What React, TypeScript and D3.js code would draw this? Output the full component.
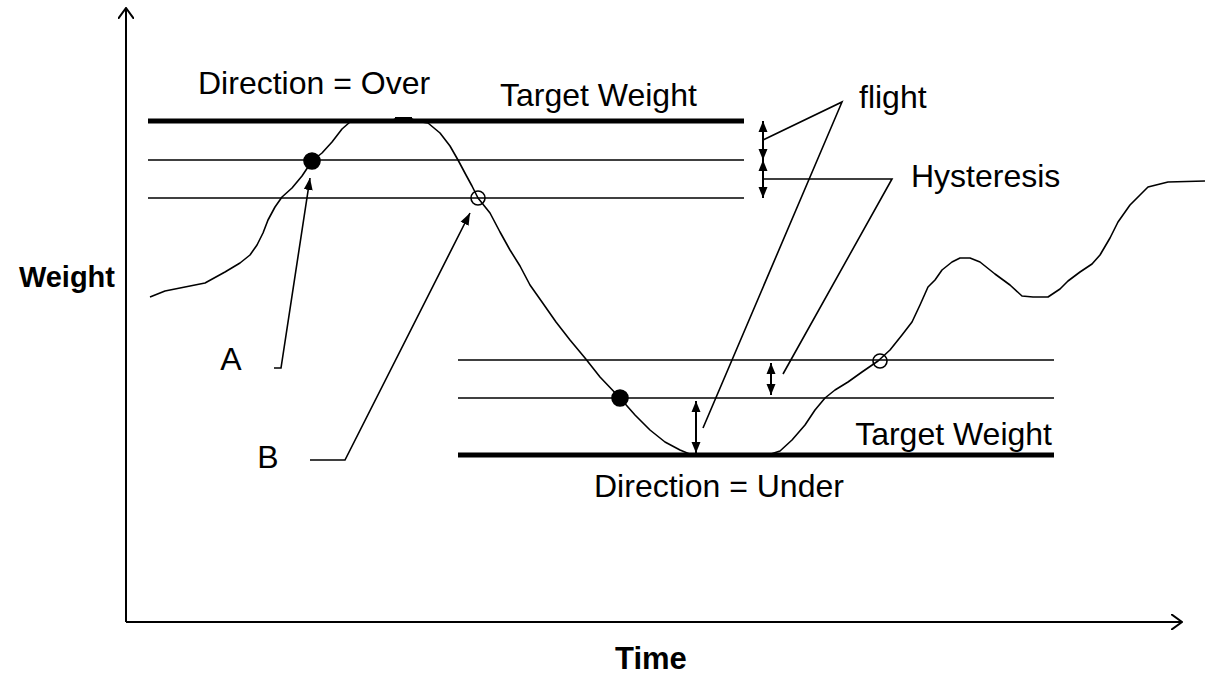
import * as React from "react";
import * as d3 from "d3";

// curve (time, weight) in diagram units
const curveTime = [
  24, 39, 59, 79, 99, 114, 124, 131, 137, 142, 149, 156, 166, 176, 186, 196, 206, 216, 224, 232,
  266, 269, 286, 289, 302, 314, 324, 332, 340, 346, 352, 364, 374, 384, 394, 404, 416, 430, 444,
  459, 474, 494, 509, 524, 539, 554, 566, 642, 654, 666, 679, 689, 699, 709, 722, 736, 752, 764,
  776, 786, 794, 802, 809, 816, 826, 834, 844, 854, 869, 884, 896, 907, 922, 934, 942, 954, 966,
  974, 984, 992, 1004, 1014, 1022, 1034, 1042, 1079,
];
const curveWeight = [
  325, 331, 335, 339, 350, 359, 367, 377, 389, 402, 415, 425, 434, 446, 461, 469, 480, 493, 500, 501,
  501, 503, 503, 501, 499, 489, 476, 462, 447, 436, 424, 409, 390, 372, 356, 337, 320, 300, 282,
  264, 245, 224, 207, 192, 180, 172, 167, 167, 171, 182, 197, 212, 224, 232, 240, 250, 261, 272,
  287, 300, 317, 335, 342, 352, 360, 364, 364, 360, 348, 337, 326, 325, 325, 333, 341, 350, 358,
  367, 384, 400, 417, 427, 435, 438, 440, 441,
];

// target weight (thick) and the two lines below / above it
const overLevels = [501, 462, 424];
const overSpan = [22, 618];
const underLevels = [167, 224, 262];
const underSpan = [332, 928];

// switching points
const dotTime = [186, 352, 494, 754];
const dotWeight = [461, 424, 224, 261];
const dotFilled = [true, false, true, false];

const W = 1205;
const H = 675;

function App() {
  const x = d3.scaleLinear().domain([0, 1056]).range([126, 1182]);
  const y = d3.scaleLinear().domain([0, 614]).range([622, 8]);

  const pts: [number, number][] = curveTime.map((t, i) => [t, curveWeight[i]]);
  const line = d3
    .line<[number, number]>()
    .x((d) => x(d[0]))
    .y((d) => y(d[1]));

  const seg = (p: [number, number][]) => line(p) as string;

  const font = "'Liberation Sans', Arial, sans-serif";

  return (
    <svg width={W} height={H} style={{ position: "absolute", left: 0, top: 0 }}>
      <defs>
        <marker id="head" viewBox="0 0 12 10" refX={12} refY={5} markerWidth={12} markerHeight={10} markerUnits="userSpaceOnUse" orient="auto-start-reverse">
          <path d="M0,0.5 L12,5 L0,9.5 Z" fill="#000" />
        </marker>
        <marker id="dbl" viewBox="0 0 11 10" refX={11} refY={5} markerWidth={11} markerHeight={10} markerUnits="userSpaceOnUse" orient="auto-start-reverse">
          <path d="M0,0.5 L11,5 L0,9.5 Z" fill="#000" />
        </marker>
        <marker id="open" viewBox="0 0 12 16" refX={11} refY={8} markerWidth={12} markerHeight={16} markerUnits="userSpaceOnUse" orient="auto">
          <path d="M0,0 L11,8 L0,16" fill="none" stroke="#000" strokeWidth={2} />
        </marker>
      </defs>
      <rect width={W} height={H} fill="#fff" />

      {/* axes */}
      <path d={seg([[0, 0], [0, 614]])} stroke="#000" strokeWidth={2} fill="none" markerEnd="url(#open)" />
      <path d={seg([[0, 0], [1056, 0]])} stroke="#000" strokeWidth={2} fill="none" markerEnd="url(#open)" />

      {/* levels */}
      {overLevels.map((w, i) => (
        <path key={"o" + i} d={seg([[overSpan[0], w], [overSpan[1], w]])} stroke="#000" strokeWidth={i === 0 ? 5 : 1.6} fill="none" />
      ))}
      {underLevels.map((w, i) => (
        <path key={"u" + i} d={seg([[underSpan[0], w], [underSpan[1], w]])} stroke="#000" strokeWidth={i === 0 ? 5 : 1.6} fill="none" />
      ))}

      {/* weight curve */}
      <path d={line(pts) as string} stroke="#000" strokeWidth={1.6} fill="none" strokeLinejoin="round" />
      <path d={seg([[269, 503], [286, 503]])} stroke="#000" strokeWidth={4} fill="none" />

      {/* points */}
      {dotTime.map((t, i) => (
        <circle key={"d" + i} cx={x(t)} cy={y(dotWeight[i])} r={dotFilled[i] ? 8 : 7}
          fill={dotFilled[i] ? "#000" : "none"} stroke="#000" strokeWidth={1.6} />
      ))}

      {/* A and B pointers */}
      <path d={seg([[148, 254], [155, 254], [184, 444]])} stroke="#000" strokeWidth={1.6} fill="none" markerEnd="url(#head)" />
      <path d={seg([[184, 162], [219, 162], [344, 409]])} stroke="#000" strokeWidth={1.6} fill="none" markerEnd="url(#head)" />

      {/* flight / hysteresis double arrows */}
      <path d={seg([[637, 501], [637, 462]])} stroke="#000" strokeWidth={2} fill="none" markerStart="url(#dbl)" markerEnd="url(#dbl)" />
      <path d={seg([[637, 462], [637, 424]])} stroke="#000" strokeWidth={2} fill="none" markerStart="url(#dbl)" markerEnd="url(#dbl)" />
      <path d={seg([[570, 221], [570, 169]])} stroke="#000" strokeWidth={2} fill="none" markerStart="url(#dbl)" markerEnd="url(#dbl)" />
      <path d={seg([[645, 259], [645, 227]])} stroke="#000" strokeWidth={2} fill="none" markerStart="url(#dbl)" markerEnd="url(#dbl)" />

      {/* leaders */}
      <path d={seg([[637, 482], [716, 520], [577, 194]])} stroke="#000" strokeWidth={1.6} fill="none" />
      <path d={seg([[637, 443], [766, 443], [657, 248]])} stroke="#000" strokeWidth={1.6} fill="none" />

      {/* labels */}
      <g fontFamily={font} fontSize={32} fill="#000">
        <text x={198} y={94}>Direction = Over</text>
        <text x={500} y={106}>Target Weight</text>
        <text x={859} y={108}>flight</text>
        <text x={911} y={187}>Hysteresis</text>
        <text x={231} y={370} textAnchor="middle">A</text>
        <text x={268} y={468} textAnchor="middle">B</text>
        <text x={1052} y={445} textAnchor="end">Target Weight</text>
        <text x={594} y={497}>Direction = Under</text>
      </g>
      <g fontFamily={font} fontWeight="bold" fill="#000">
        <text x={115} y={287} textAnchor="end" fontSize={29}>Weight</text>
        <text x={615} y={669} fontSize={31}>Time</text>
      </g>
    </svg>
  );
}

export default App;
